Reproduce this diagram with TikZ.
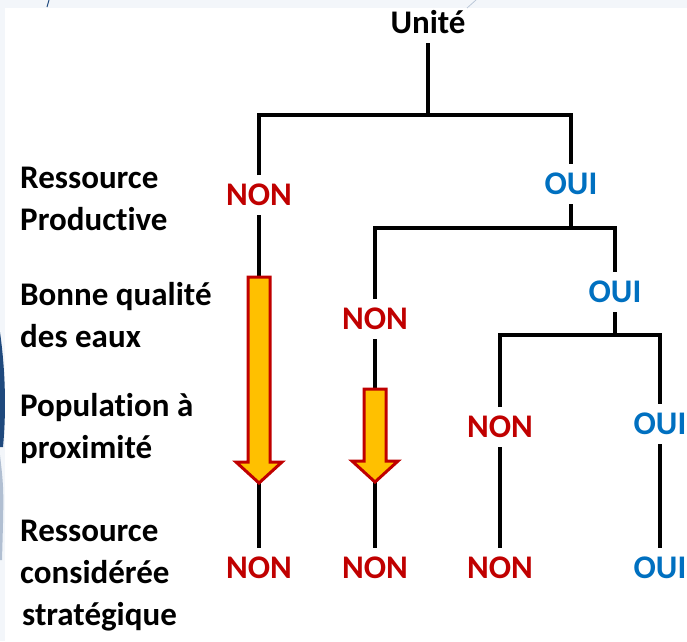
\documentclass[tikz,border=0pt]{standalone}
\usepackage{fontspec}
\setmainfont[Ligatures=NoCommon]{Carlito}
\usepackage{tikz}
\usetikzlibrary{calc}
\definecolor{nonrot}{RGB}{192,0,0}
\definecolor{ouiblau}{RGB}{0,112,192}
\definecolor{pfeilgelb}{RGB}{255,192,0}
\definecolor{folie}{RGB}{243,246,250}
\definecolor{folieblau}{RGB}{31,73,125}

\begin{document}
\begin{tikzpicture}[x=1pt,y=-1pt,
		txt/.style={font=\fontsize{33}{42}\selectfont\bfseries},
		critere/.style={txt,inner sep=0pt,anchor=base west,align=left},
		reponse/.style={txt,inner sep=0pt,outer sep=10pt,text height=20pt,text depth=0pt},
		non/.style={reponse,text=nonrot},
		oui/.style={reponse,text=ouiblau},
		branche/.style={line width=4pt},
		fleche/.style={draw=nonrot,fill=pfeilgelb,line width=3pt,line join=miter}]
		\useasboundingbox (0,0) rectangle (687,641);
		
		% Folie
		\fill[folie] (0,0) rectangle (687,641);
		\fill[white] (5,8) rectangle (687,641);
		\fill[folieblau] (0,332) .. controls (6,375) and (6,415) .. (3,447) -- (0,447) -- cycle;
		\fill[folieblau!35] (0,455) .. controls (4,490) .. (2,560) -- (0,560) -- cycle;
		\draw[folieblau,line width=1pt] (49,0) -- (47,7);
		\draw[folieblau!30,line width=0.8pt] (476,0) -- (467,8);
		
		% Kriterien (Anker = letzte Grundlinie)
		\node[critere] (crit1) at (20,230) {Ressource\\Productive};
		\node[critere] (crit2) at (20,347) {Bonne qualité\\des eaux};
		\node[critere] (crit3) at (20,458) {Population à\\proximité};
		\node[critere] (crit4) at (20,625) {Ressource\\considérée\\\hspace{2pt}stratégique};
		
		% Antworten
		\node[reponse] (unite) at (428,23) {Unité};
		\node[non] (non1) at (259,195) {NON};
		\node[oui] (oui1) at (571,184) {OUI};
		\node[non] (non2) at (375,319) {NON};
		\node[oui] (oui2) at (615,292) {OUI};
		\node[non] (non3) at (500,427) {NON};
		\node[oui] (oui3) at (660,424) {OUI};
		\node[non] (fin1) at (259,568) {NON};
		\node[non] (fin2) at (375,568) {NON};
		\node[non] (fin3) at (500,568) {NON};
		\node[oui] (fin4) at (660,568) {OUI};
		
		% Baum
		\coordinate (k0) at (428,115);
		\coordinate (k1) at (571,228);
		\coordinate (k2) at (615,335);
		\draw[branche] (unite) -- (k0);
		\draw[branche] (non1) |- (k0) -| (oui1);
		\draw[branche] (oui1) -- (k1);
		\draw[branche] (non2) |- (k1) -| (oui2);
		\draw[branche] (oui2) -- (k2);
		\draw[branche] (non3) |- (k2) -| (oui3);
		\draw[branche] (non3) -- (fin3);
		\draw[branche] (oui3) -- (fin4);
		
		% Pfeile
		\coordinate (f1a) at (259,277);
		\coordinate (f1b) at (259,483);
		\coordinate (f2a) at (375,389);
		\coordinate (f2b) at (375,482);
		\draw[branche] (non1) -- (f1a);
		\draw[branche] (f1b) -- (fin1);
		\draw[branche] (non2) -- (f2a);
		\draw[branche] (f2b) -- (fin2);
		\draw[fleche] ($(f1a)+(-11,0)$) |- ($(f1b)+(-23,-21)$) -- (f1b) -- ($(f1b)+(23,-21)$) -| ($(f1a)+(11,0)$) -- cycle;
		\draw[fleche] ($(f2a)+(-11,0)$) |- ($(f2b)+(-23,-21)$) -- (f2b) -- ($(f2b)+(23,-21)$) -| ($(f2a)+(11,0)$) -- cycle;
	\end{tikzpicture}
\end{document}
